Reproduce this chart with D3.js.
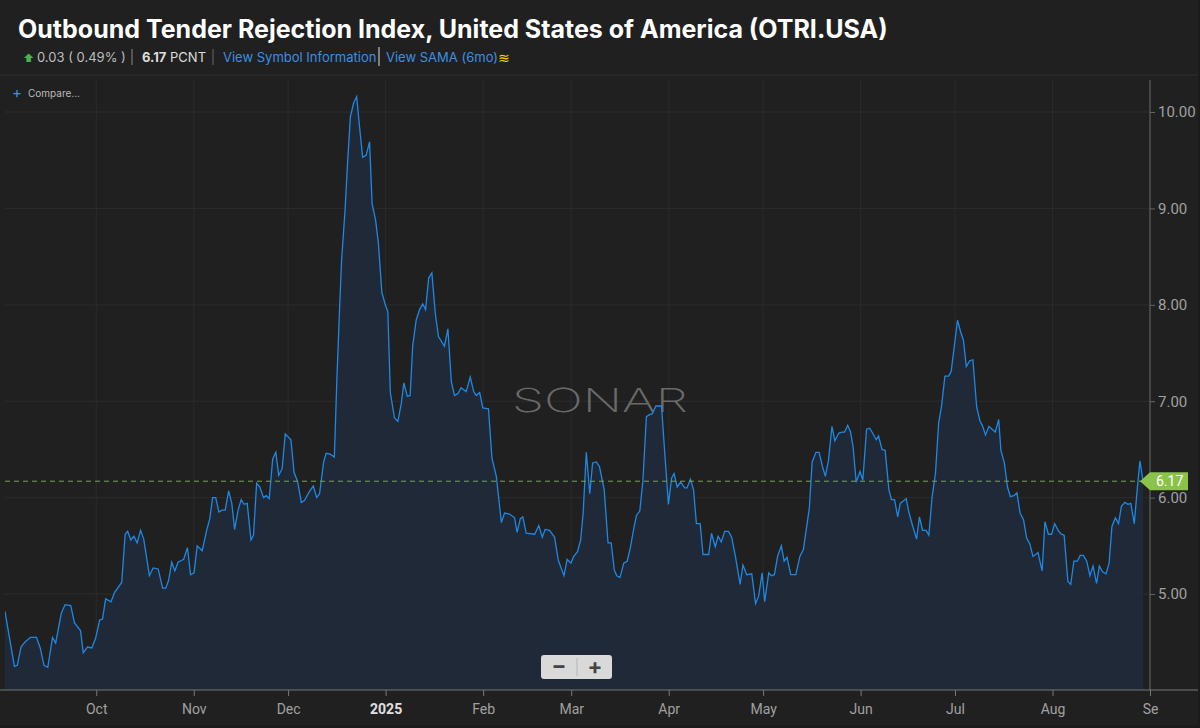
<!DOCTYPE html>
<html>
<head>
<meta charset="utf-8">
<script src="https://cdn.jsdelivr.net/npm/d3@7"></script>
<style>
  body { margin: 0; background: #1b1b1b; font-family: Inter, "Noto Sans", sans-serif; }
  svg { display: block; }
</style>
</head>
<body>
<svg id="chart" width="1200" height="728"></svg>
<script>
// days since 2024-09-02
var days = [0,1.4,3,3.9,5.1,6.3,8.1,10,11.2,12.4,13.6,15.1,16.1,17.9,19.1,20.9,22.1,24,24.9,26.2,27.6,28.8,30.1,31,32,33.7,34.9,37.1,38.2,39,40,41,42,43.1,44.1,45.9,47.1,48.7,50.1,51.1,52,53,54,55,56.8,58,59,60.1,61.1,62.7,64.1,65.1,66,67,68,69,70,71.1,72.1,73,74.1,75.1,76,77,78.2,79,80,81,82.2,83,84,85.1,86.1,87,88.1,89.1,90.9,91.9,93,94.2,95.2,96.7,98,99.1,100,101.3,102.1,103.4,104.7,105.5,106.3,107,108.1,108.9,109.8,110.8,111.8,112.7,113.7,114.8,115.9,116.7,117.8,118.7,119.8,120.9,121.7,122.5,123.8,124.9,126,126.8,127.9,128.8,129.6,130.7,131.8,132.8,133.7,134.7,135.7,136.8,137.8,139.7,140.8,141.9,142.9,144,145,146.6,147.9,149,149.8,150.9,151.9,153.7,154.8,156.2,157.8,158.8,160.4,162,162.8,163.8,164.6,165.7,168.4,169.7,170.8,171.7,173.1,174.7,175.9,177.7,178.7,179.9,180.8,182,183,183.8,184.8,185.9,186.8,188,189,190.5,191.7,192.7,193.7,194.5,195.5,196.7,197.8,198.8,200,200.8,201.8,202.8,203.9,204.9,205.8,206.9,208.7,209.6,210.9,211.9,212.7,213.7,214.8,216.1,216.8,217.9,218.9,219.8,221,221.9,223.7,224.6,225.8,226.7,227.7,228.8,230,231,232.2,233.7,234.6,235.8,237.4,238.6,239.6,240.7,241.5,242.8,243.7,244.6,245.6,246.8,247.7,248.6,249.8,251.4,252.7,253.8,255.7,256.6,257.8,258.8,259.9,260.8,261.8,262.9,263.8,265.1,266.1,266.9,267.9,268.8,269.6,270.6,271.8,272.7,273.9,274.9,275.8,277,277.7,278.8,279.8,281,281.8,282.8,283.8,284.6,286.5,287.4,288.6,289.8,290.7,291.7,292.8,293.7,294.7,295.8,296.8,297.7,298.8,300,300.8,301.9,302.8,303.8,304.7,305.6,306.7,307.7,308.9,309.9,310.8,311.7,312.8,313.8,314.8,315.9,316.6,317.7,318.7,319.6,320.7,321.7,322.7,323.8,324.8,325.8,326.8,328.4,329.7,330.6,331.7,332.7,333.7,334.8,335.8,336.7,337.9,338.8,339.8,340.9,341.8,342.8,343.9,344.9,345.9,347,347.9,348.9,350,351,351.9,353,354,354.9,356,357,357.9,359,360,360.8,361.8];
var values = [4.82,4.55,4.25,4.26,4.45,4.50,4.55,4.55,4.44,4.26,4.24,4.55,4.49,4.80,4.89,4.88,4.70,4.62,4.39,4.45,4.44,4.54,4.73,4.74,4.95,4.92,5.02,5.12,5.62,5.65,5.56,5.60,5.53,5.66,5.57,5.19,5.27,5.26,5.06,5.06,5.14,5.33,5.24,5.33,5.36,5.48,5.20,5.22,5.50,5.45,5.66,5.78,6.00,6.00,5.85,5.87,5.87,6.07,5.94,5.67,5.87,5.98,5.93,5.94,5.56,5.61,6.15,6.11,6.00,6.02,5.99,6.40,6.47,6.23,6.30,6.66,6.60,6.26,6.17,5.95,5.97,6.06,6.12,6.00,6.04,6.37,6.46,6.45,6.42,7.22,7.91,8.46,8.98,9.47,9.95,10.09,10.16,9.85,9.53,9.55,9.69,9.05,8.88,8.64,8.13,8.00,7.93,7.09,6.83,6.79,6.98,7.19,7.05,7.06,7.57,7.84,7.95,8.01,7.95,8.28,8.33,7.91,7.67,7.57,7.75,7.20,7.06,7.08,7.14,7.10,7.25,7.10,7.06,7.09,6.93,6.92,6.41,6.22,5.74,5.84,5.83,5.79,5.64,5.78,5.80,5.63,5.62,5.71,5.59,5.67,5.66,5.59,5.35,5.19,5.36,5.32,5.39,5.44,5.56,5.84,6.47,6.04,6.36,6.37,6.32,6.08,5.53,5.53,5.25,5.19,5.17,5.32,5.34,5.48,5.70,5.82,5.86,6.18,6.84,6.86,6.87,6.95,6.95,6.53,5.93,6.20,6.25,6.11,6.16,6.10,6.10,6.19,6.08,5.73,5.73,5.41,5.41,5.63,5.49,5.60,5.54,5.65,5.65,5.59,5.39,5.10,5.30,5.20,5.21,4.90,4.98,5.22,4.92,5.22,5.19,5.20,5.39,5.50,5.34,5.38,5.20,5.20,5.39,5.46,5.89,6.37,6.47,6.47,6.32,6.22,6.39,6.74,6.59,6.67,6.68,6.68,6.75,6.68,6.53,6.16,6.27,6.18,6.71,6.72,6.67,6.60,6.64,6.50,6.49,6.08,5.98,5.98,5.80,5.94,5.99,5.84,5.70,5.57,5.80,5.66,5.66,5.61,6.00,6.25,6.77,6.94,7.26,7.26,7.31,7.60,7.84,7.72,7.63,7.36,7.42,7.43,6.94,6.80,6.74,6.65,6.74,6.71,6.68,6.81,6.49,6.36,6.11,6.01,6.02,6.05,5.84,5.77,5.58,5.52,5.39,5.43,5.24,5.75,5.62,5.62,5.73,5.66,5.62,5.61,5.13,5.10,5.34,5.34,5.40,5.40,5.34,5.19,5.29,5.11,5.29,5.23,5.21,5.32,5.70,5.79,5.73,5.91,5.95,5.93,5.94,5.73,6.11,6.38,6.17];
var yTicks = [5, 6, 7, 8, 9, 10];
var monthTicks = ["2024-10-01","2024-11-01","2024-12-01","2025-01-01","2025-02-01","2025-03-01","2025-04-01","2025-05-01","2025-06-01","2025-07-01","2025-08-01","2025-09-01"];
var monthLabels = ["Oct","Nov","Dec","2025","Feb","Mar","Apr","May","Jun","Jul","Aug","Se"];
var lastValue = 6.17;

var start = new Date(2024, 8, 2);
var data = days.map((d, i) => ({ date: new Date(start.getTime() + d * 864e5), value: values[i] }))
  .filter(d => d.value != null);

var svg = d3.select("#chart");
var plotLeft = 5, plotRight = 1150, plotTop = 80, plotBottom = 690;

svg.append("rect").attr("width", 1200).attr("height", 728).attr("fill", "#1b1b1b");
svg.append("rect").attr("x", 0).attr("y", 0).attr("width", 1198).attr("height", 725).attr("fill", "#202020");
svg.append("line").attr("x1", 0).attr("x2", 1198).attr("y1", 75).attr("y2", 75).attr("stroke", "#2e2e2e");

var x = d3.scaleTime().domain([start, new Date(2025, 8, 1)]).range([plotLeft, plotRight]);
var y = d3.scaleLinear().domain([5, 10]).range([594, 112]);

// grid
var grid = svg.append("g");
yTicks.forEach(t => grid.append("line").attr("x1", plotLeft).attr("x2", plotRight)
  .attr("y1", y(t)).attr("y2", y(t)).attr("stroke", "#2c2c2c"));
monthTicks.forEach(t => grid.append("line").attr("x1", x(new Date(t + "T00:00"))).attr("x2", x(new Date(t + "T00:00")))
  .attr("y1", plotTop).attr("y2", plotBottom).attr("stroke", "#2a2a2a"));

// watermark
svg.append("text").attr("x", 512).attr("y", 412)
  .attr("font-size", 33).attr("font-weight", 200).attr("font-family", "Inter, sans-serif")
  .attr("textLength", 176).attr("lengthAdjust", "spacingAndGlyphs")
  .attr("fill", "#6a6a6a").text("SONAR");

svg.append("clipPath").attr("id", "clip").append("rect")
  .attr("x", plotLeft).attr("y", plotTop).attr("width", plotRight - plotLeft).attr("height", plotBottom - plotTop);

var area = d3.area().x(d => x(d.date)).y0(plotBottom).y1(d => y(d.value));
var line = d3.line().x(d => x(d.date)).y(d => y(d.value));
var plot = svg.append("g").attr("clip-path", "url(#clip)");
plot.append("path").datum(data).attr("d", area).attr("fill", "#212a3a").attr("fill-opacity", 0.92);
plot.append("path").datum(data).attr("d", line).attr("fill", "none").attr("stroke", "#1e88e5").attr("stroke-width", 1.3);

// last value line
svg.append("line").attr("x1", plotLeft).attr("x2", plotRight).attr("y1", y(lastValue)).attr("y2", y(lastValue))
  .attr("stroke", "#7aa35a").attr("stroke-dasharray", "5,4").attr("stroke-width", 1);

// right axis
var yAxis = d3.axisRight(y).tickValues(yTicks).tickFormat(d3.format(".2f")).tickSize(5).tickPadding(3);
var ya = svg.append("g").attr("transform", `translate(${plotRight},0)`).call(yAxis);
ya.select(".domain").attr("d", `M0,${plotTop}V${plotBottom}`).attr("stroke", "#666");
ya.selectAll(".tick line").attr("stroke", "#666");
ya.selectAll("text").attr("fill", "#a0a0a0").attr("font-size", 15).attr("font-family", "Roboto, sans-serif");

// bottom axis
var xAxis = d3.axisBottom(x).tickValues(monthTicks.map(t => new Date(t + "T00:00")))
  .tickFormat((d, i) => monthLabels[i]).tickSize(6).tickPadding(8);
var xa = svg.append("g").attr("transform", `translate(0,${plotBottom})`).call(xAxis);
xa.select(".domain").attr("d", `M0,0H1198`).attr("stroke", "#777");
xa.selectAll(".tick line").attr("stroke", "#777");
xa.selectAll("text").attr("fill", (d, i) => i == 3 ? "#e0e0e0" : "#a0a0a0")
  .attr("font-weight", (d, i) => i == 3 ? "bold" : "normal")
  .attr("font-size", 14).attr("font-family", "Roboto, sans-serif");

// last value tag
var ly = y(lastValue);
svg.append("path").attr("d", `M${plotRight - 10},${ly} L${plotRight},${ly - 9} H${plotRight + 38} V${ly + 9} H${plotRight} Z`).attr("fill", "#8bc34a");
svg.append("text").attr("x", plotRight + 6).attr("y", ly + 5).attr("fill", "#fff").attr("font-size", 14)
  .attr("font-family", "Roboto, sans-serif").text(lastValue.toFixed(2));

// zoom control
var zc = svg.append("g").attr("transform", "translate(541,655)");
zc.append("rect").attr("width", 71).attr("height", 24).attr("rx", 3).attr("fill", "#d9d9d9");
zc.append("line").attr("x1", 36).attr("x2", 36).attr("y1", 3).attr("y2", 21).attr("stroke", "#b5b5b5");
zc.append("text").attr("x", 18).attr("y", 18).attr("text-anchor", "middle").attr("font-size", 22).attr("font-weight", "bold").attr("fill", "#444").text("−");
zc.append("text").attr("x", 54).attr("y", 19).attr("text-anchor", "middle").attr("font-size", 22).attr("font-weight", "bold").attr("fill", "#444").text("+");

// compare
svg.append("text").attr("x", 12).attr("y", 98).attr("fill", "#3d8fe0").attr("font-size", 15).text("+");
svg.append("text").attr("x", 28).attr("y", 97).attr("fill", "#bbb").attr("font-size", 10).text("Compare...");

// header
svg.append("text").attr("x", 18).attr("y", 38).attr("fill", "#fff").attr("font-size", 25).attr("font-weight", "bold")
  .attr("font-family", "Inter, sans-serif").text("Outbound Tender Rejection Index, United States of America (OTRI.USA)");
var sub = svg.append("g").attr("font-size", 13).attr("font-family", "Inter, sans-serif");
sub.append("text").attr("x", 23).attr("y", 62).attr("fill", "#4caf50").attr("font-size", 11).text("⬆");
sub.append("text").attr("x", 37).attr("y", 62).attr("fill", "#bdbdbd").text("0.03 ( 0.49% )");
sub.append("line").attr("x1", 132).attr("x2", 132).attr("y1", 49).attr("y2", 65).attr("stroke", "#888");
sub.append("text").attr("x", 142).attr("y", 62).attr("fill", "#ddd").html('<tspan font-weight="bold">6.17</tspan> PCNT');
sub.append("line").attr("x1", 213).attr("x2", 213).attr("y1", 49).attr("y2", 65).attr("stroke", "#666");
sub.append("text").attr("x", 223).attr("y", 62).attr("fill", "#3d8fe0").text("View Symbol Information");
sub.append("line").attr("x1", 379).attr("x2", 379).attr("y1", 47).attr("y2", 66).attr("stroke", "#ddd");
sub.append("text").attr("x", 386).attr("y", 62).attr("fill", "#3d8fe0").text("View SAMA (6mo)");
sub.append("text").attr("x", 498).attr("y", 63).attr("fill", "#f0d000").attr("font-size", 14).text("≋");
</script>
</body>
</html>
